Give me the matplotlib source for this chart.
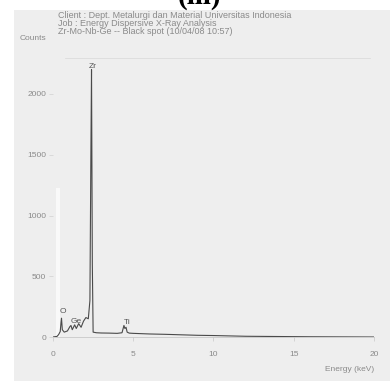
"""EDS spectrum, Zr-Mo-Nb-Ge black spot (scanned figure (iii))."""

import matplotlib
matplotlib.use("Agg")
import matplotlib.pyplot as plt
from matplotlib.patches import Rectangle
from matplotlib.lines import Line2D

plt.rcParams["font.family"] = ["Liberation Sans", "DejaVu Sans"]

# spectrum (energy in keV, counts)
energy = [0.0, 0.25, 0.35, 0.45, 0.50, 0.53, 0.58, 0.70, 0.90, 1.05, 1.12, 1.20,
          1.35, 1.45, 1.60, 1.75, 1.90, 2.05, 2.20, 2.30, 2.36, 2.40, 2.45, 2.50,
          2.70, 3.00, 3.50, 4.00, 4.30, 4.42, 4.48, 4.55, 4.62, 4.75, 5.00, 6.00,
          7.00, 8.00, 9.00, 10.0, 11.0, 12.0, 14.0, 16.0, 18.0, 20.0]
counts = [0, 5, 20, 45, 120, 155, 60, 40, 50, 85, 95, 60,
          100, 70, 110, 80, 130, 160, 150, 300, 1500, 2200, 600, 40,
          35, 33, 32, 30, 35, 95, 70, 80, 40, 32, 30, 25,
          22, 18, 14, 12, 9, 6, 4, 2, 1, 0]

peak_names = ["Zr", "O", "Ge", "Ti"]
peak_x = [2.5, 0.62, 1.45, 4.6]
peak_y = [2200, 180, 95, 90]

header = ["Client : Dept. Metalurgi dan Material Universitas Indonesia",
          "Job : Energy Dispersive X-Ray Analysis",
          "Zr-Mo-Nb-Ge -- Black spot (10/04/08 10:57)"]

W, H = 390, 381
fig = plt.figure(figsize=(W / 100, H / 100), dpi=100)
fig.patch.set_facecolor("white")
bg = "#eeeeee"
fig.patches.append(Rectangle((14 / W, 0), 1, 1 - 10 / H, transform=fig.transFigure,
                             facecolor=bg, edgecolor="none", zorder=-5))

ax = fig.add_axes([53 / W, (H - 337) / H, 321 / W, 277 / H])
ax.set_facecolor("none")
ax.set_xlim(0, 20)
ax.set_ylim(0, 277 / 0.1215)

# scan artefact: whitish streak near the origin
ax.axvline(0.3, ymin=0.0, ymax=0.53, color="white", lw=3, alpha=0.7, zorder=1)

ax.plot(energy, counts, color="#4a4a4a", lw=0.8, zorder=3)

for name, x, y in zip(peak_names, peak_x, peak_y):
    ax.text(x, y, name, fontsize=6, color="#555555", ha="center", va="bottom")

for side in ("left", "right", "top"):
    ax.spines[side].set_visible(False)
ax.spines["bottom"].set_color("#c8c8c8")
ax.spines["bottom"].set_linewidth(0.6)

ax.set_xticks([0, 5, 10, 15, 20])
ax.set_yticks([0, 500, 1000, 1500, 2000])
ax.tick_params(axis="x", colors="#c8c8c8", labelcolor="#8a8a8a", labelsize=6,
               length=3, width=0.5, pad=7)
ax.tick_params(axis="y", colors="#d0d0d0", labelcolor="#8a8a8a", labelsize=6,
               length=3, width=0.5, pad=2)
ax.text(1.0, -0.105, "Energy (keV)", transform=ax.transAxes, fontsize=6,
        color="#8a8a8a", ha="right", va="top")

# header block
for i, line in enumerate(header):
    fig.text(58 / W, 1 - (16 + 7.5 * i) / H, line, fontsize=6.5, color="#8a8a8a",
             ha="left", va="center")
fig.text(20 / W, 1 - 38 / H, "Counts", fontsize=6, color="#8a8a8a",
         ha="left", va="center")
fig.lines.append(Line2D([65 / W, 370 / W], [1 - 58 / H, 1 - 58 / H],
                        transform=fig.transFigure, color="#dcdcdc", lw=0.6))

fig.text(200 / W, 1 - 4 / H, "(iii)", fontsize=21, fontweight="bold",
         family="Liberation Serif", ha="center", va="baseline")

fig.savefig("out.png", dpi=100)
